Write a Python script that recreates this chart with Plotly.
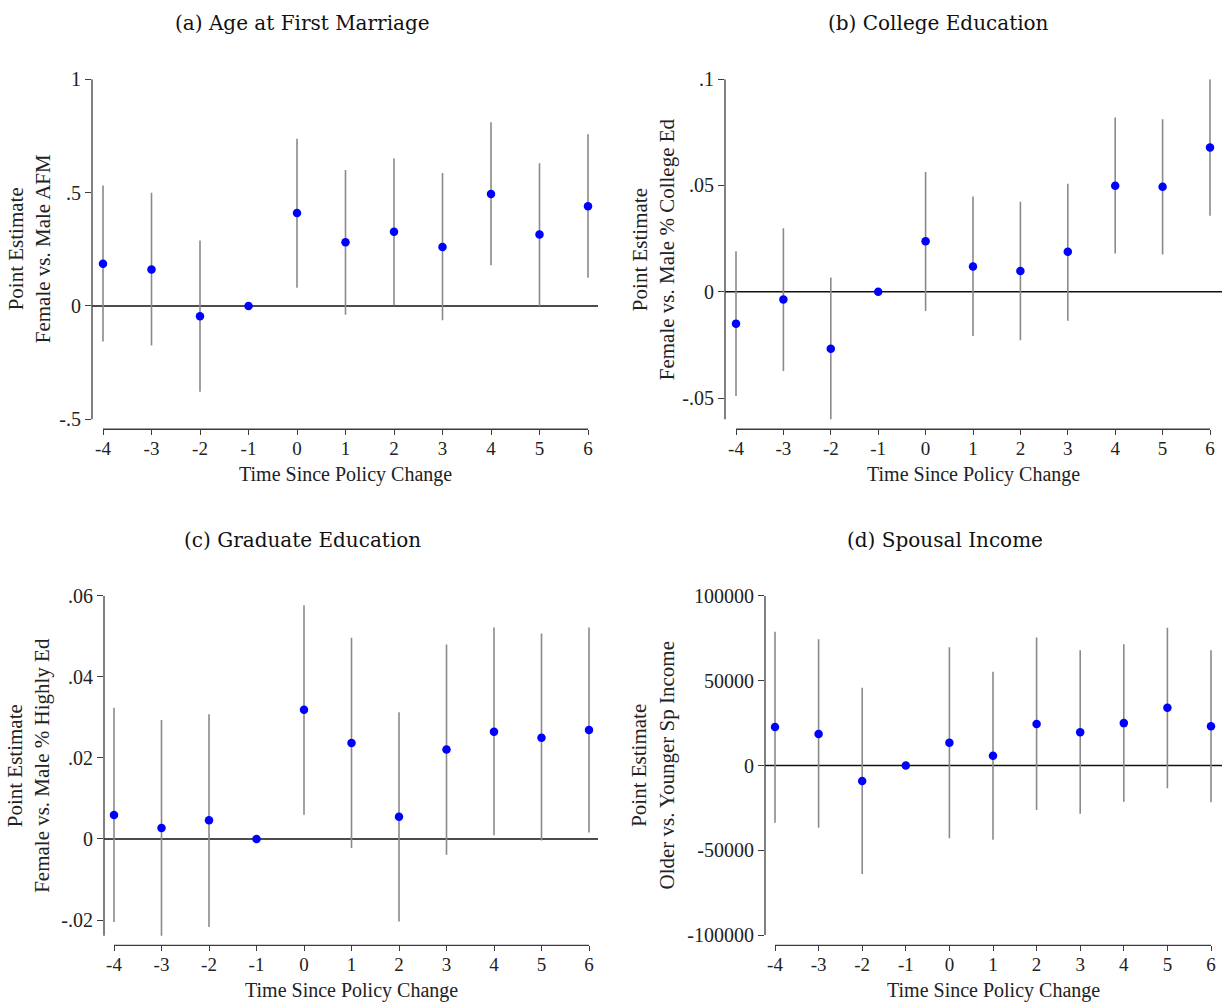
import plotly.graph_objects as go

# Event time relative to the policy change
periods = [-4, -3, -2, -1, 0, 1, 2, 3, 4, 5, 6]
period_labels = ["-4", "-3", "-2", "-1", "0", "1", "2", "3", "4", "5", "6"]

# (a) Age at first marriage
afm_est = [0.186, 0.161, -0.045, 0.0, 0.410, 0.281, 0.327, 0.260, 0.494, 0.315, 0.440]
afm_lo = [-0.157, -0.174, -0.378, 0.0, 0.080, -0.039, 0.003, -0.063, 0.179, 0.000, 0.124]
afm_hi = [0.531, 0.499, 0.289, 0.0, 0.737, 0.600, 0.650, 0.586, 0.810, 0.629, 0.757]
afm_ticks = [-0.5, 0, 0.5, 1]
afm_ticktext = ["-.5", "0", ".5", "1"]

# (b) College education
col_est = [-0.0150, -0.0037, -0.0268, 0.0, 0.0237, 0.0119, 0.0098, 0.0188, 0.0499, 0.0494, 0.0679]
col_lo = [-0.0491, -0.0373, -0.0600, 0.0, -0.0091, -0.0208, -0.0228, -0.0136, 0.0180, 0.0175, 0.0358]
col_hi = [0.0191, 0.0299, 0.0067, 0.0, 0.0563, 0.0448, 0.0423, 0.0508, 0.0820, 0.0812, 0.1000]
col_ticks = [-0.05, 0, 0.05, 0.1]
col_ticktext = ["-.05", "0", ".05", ".1"]

# (c) Graduate education
grad_est = [0.0059, 0.0027, 0.0046, 0.0, 0.0319, 0.0237, 0.0055, 0.0221, 0.0265, 0.0250, 0.0269]
grad_lo = [-0.0205, -0.0239, -0.0217, 0.0, 0.0060, -0.0022, -0.0204, -0.0039, 0.0009, -0.0004, 0.0016]
grad_hi = [0.0324, 0.0294, 0.0308, 0.0, 0.0577, 0.0497, 0.0313, 0.0480, 0.0522, 0.0507, 0.0522]
grad_ticks = [-0.02, 0, 0.02, 0.04, 0.06]
grad_ticktext = ["-.02", "0", ".02", ".04", ".06"]

# (d) Spousal income
inc_est = [22700, 18600, -9100, 0, 13400, 5800, 24500, 19600, 25000, 34000, 23100]
inc_lo = [-33800, -36700, -63900, 0, -42900, -43700, -26200, -28500, -21400, -13400, -21600]
inc_hi = [78800, 74400, 45800, 0, 69700, 55300, 75500, 68000, 71500, 81200, 68000]
inc_ticks = [-100000, -50000, 0, 50000, 100000]
inc_ticktext = ["-100000", "-50000", "0", "50000", "100000"]

panel_titles = ["(a) Age at First Marriage", "(b) College Education",
                "(c) Graduate Education", "(d) Spousal Income"]
y_titles = ["Point Estimate<br>Female vs. Male AFM",
            "Point Estimate<br>Female vs. Male % College Ed",
            "Point Estimate<br>Female vs. Male % Highly Ed",
            "Point Estimate<br>Older vs. Younger Sp Income"]
x_title = "Time Since Policy Change"

W, H = 1222, 1004
FONT = "Liberation Serif"
TITLE_FONT = "DejaVu Serif"
AXIS_COLOR = "#3c3c3c"
CI_COLOR = "#8a8a8a"
DOT_COLOR = "#0000ff"
TEXT_COLOR = "#222222"

# Pixel geometry of each panel:
# left/right of plot area, pixel of x=-4 and x=6, pixel of top/bottom y tick, x-axis line pixel
geom = [
    dict(L=92, R=598, px0=103, px1=588, py_top=69, py_bot=413.3, B=423.3, tx=302, ty=12, ytx=29),
    dict(L=725, R=1222, px0=736, px1=1210, py_top=69, py_bot=391.7, B=423.3, tx=938, ty=12, ytx=653),
    dict(L=104, R=598, px0=114, px1=589, py_top=592, py_bot=920, B=945.7, tx=302, ty=535, ytx=29),
    dict(L=765, R=1222, px0=775, px1=1211, py_top=592, py_bot=935.3, B=945.7, tx=945, ty=535, ytx=653),
]

panels = [
    (afm_est, afm_lo, afm_hi, afm_ticks, afm_ticktext),
    (col_est, col_lo, col_hi, col_ticks, col_ticktext),
    (grad_est, grad_lo, grad_hi, grad_ticks, grad_ticktext),
    (inc_est, inc_lo, inc_hi, inc_ticks, inc_ticktext),
]

fig = go.Figure()
layout = dict(
    width=W, height=H,
    margin=dict(l=0, r=0, t=0, b=0),
    paper_bgcolor="white", plot_bgcolor="white",
    showlegend=False,
    font=dict(family=FONT, size=20, color=TEXT_COLOR),
)
shapes = []
annotations = []


def px_to_paper_x(p):
    return p / W


def px_to_paper_y(p):
    return 1 - p / H


for i, ((est, lo, hi, yt, ytt), g) in enumerate(zip(panels, geom)):
    n = i + 1
    xa = "xaxis" if n == 1 else f"xaxis{n}"
    ya = "yaxis" if n == 1 else f"yaxis{n}"
    xr = "x" if n == 1 else f"x{n}"
    yr = "y" if n == 1 else f"y{n}"

    # x range so that -4 and 6 land on their pixel positions
    kx = (g["px1"] - g["px0"]) / (periods[-1] - periods[0])
    x_range = [periods[0] - (g["px0"] - g["L"]) / kx, periods[-1] + (g["R"] - g["px1"]) / kx]

    # y range: top tick at the top of the plot area, extended down to the x-axis line
    y_top_val, y_bot_val = max(yt), min(yt)
    ky = (g["py_bot"] - g["py_top"]) / (y_top_val - y_bot_val)
    y_range = [y_bot_val - (g["B"] - g["py_bot"]) / ky, y_top_val]

    layout[xa] = dict(
        domain=[px_to_paper_x(g["L"]), px_to_paper_x(g["R"])],
        range=x_range, anchor=yr, showgrid=False, zeroline=False, showline=False,
        tickmode="array", tickvals=periods, ticktext=period_labels,
        ticks="outside", ticklen=5, tickwidth=1.3, tickcolor=AXIS_COLOR,
        ticklabelstandoff=-3,
        tickfont=dict(family=FONT, size=19, color=TEXT_COLOR),
    )
    layout[ya] = dict(
        domain=[px_to_paper_y(g["B"]), px_to_paper_y(g["py_top"])],
        range=y_range, anchor=xr, showgrid=False, zeroline=False, showline=False,
        tickmode="array", tickvals=yt, ticktext=ytt,
        ticks="outside", ticklen=6, tickwidth=1.3, tickcolor=AXIS_COLOR,
        tickfont=dict(family=FONT, size=20, color=TEXT_COLOR),
    )

    # reference line at zero
    shapes.append(dict(type="line", xref=f"{xr} domain", yref=yr, x0=0, x1=1, y0=0, y1=0,
                       line=dict(color="#111111", width=1.6), layer="below"))
    # y-axis line spanning the ticks and the data
    y_lo_line = min(min(lo), y_bot_val)
    y_hi_line = max(max(hi), y_top_val)
    shapes.append(dict(type="line", xref=f"{xr} domain", yref=yr, x0=0, x1=0,
                       y0=y_lo_line, y1=y_hi_line, line=dict(color=AXIS_COLOR, width=1.3)))
    # x-axis line from first to last period
    shapes.append(dict(type="line", xref=xr, yref=f"{yr} domain", x0=periods[0], x1=periods[-1],
                       y0=0, y1=0, line=dict(color=AXIS_COLOR, width=1.3)))

    fig.add_trace(go.Scatter(
        x=periods, y=est, mode="markers", xaxis=xr, yaxis=yr,
        marker=dict(size=8.5, color=DOT_COLOR, line=dict(width=0)),
        error_y=dict(type="data", symmetric=False,
                     array=[h - e for h, e in zip(hi, est)],
                     arrayminus=[e - l for e, l in zip(est, lo)],
                     color=CI_COLOR, thickness=1.6, width=0),
        cliponaxis=False,
    ))

    # panel title
    annotations.append(dict(text=panel_titles[i], xref="paper", yref="paper",
                            x=px_to_paper_x(g["tx"]), y=px_to_paper_y(g["ty"]),
                            xanchor="center", yanchor="middle", showarrow=False,
                            font=dict(family=TITLE_FONT, size=20, color="#111111")))
    # y-axis title (two lines)
    mid_y = (g["py_top"] + (g["py_top"] + (y_top_val - y_lo_line) * ky)) / 2
    annotations.append(dict(text=y_titles[i], xref="paper", yref="paper",
                            x=px_to_paper_x(g["ytx"]), y=px_to_paper_y(mid_y),
                            xanchor="center", yanchor="middle", showarrow=False, textangle=-90,
                            font=dict(family=FONT, size=21, color=TEXT_COLOR)))
    # x-axis title
    annotations.append(dict(text=x_title, xref="paper", yref="paper",
                            x=px_to_paper_x((g["px0"] + g["px1"]) / 2),
                            y=px_to_paper_y(g["B"] + 46),
                            xanchor="center", yanchor="middle", showarrow=False,
                            font=dict(family=FONT, size=20, color=TEXT_COLOR)))

layout["shapes"] = shapes
layout["annotations"] = annotations
fig.update_layout(**layout)
fig.write_html("out.html")
